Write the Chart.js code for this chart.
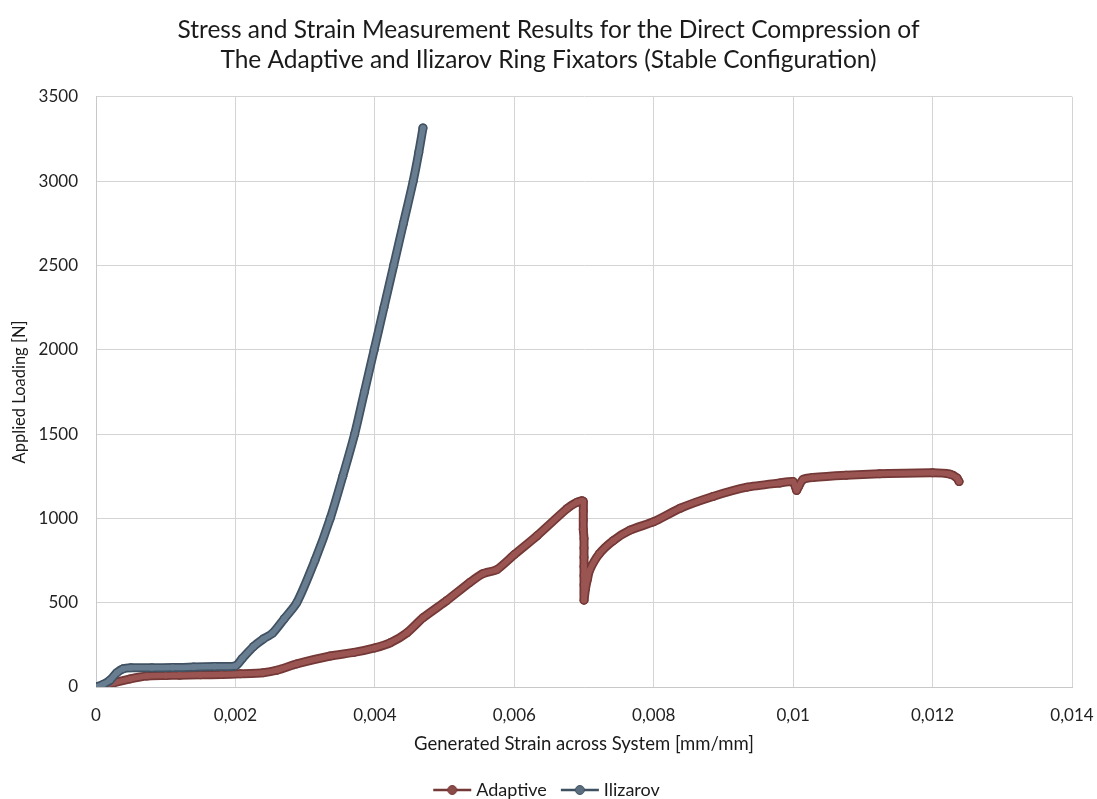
<!DOCTYPE html>
<html>
<head>
<meta charset="utf-8">
<script src="https://cdn.jsdelivr.net/npm/chart.js@4/dist/chart.umd.min.js"></script>
<style>
html,body{margin:0;padding:0;background:#fff;overflow:hidden;}
#wrap{width:1097px;height:799px;}
</style>
</head>
<body>
<div id="wrap"><canvas id="c" width="1097" height="799"></canvas></div>
<script>
// ---- data ----
const adaptiveX = [0, 0.0001, 0.00025, 0.00049, 0.00073, 0.001, 0.0012, 0.0015, 0.0018, 0.00207, 0.0024, 0.0026, 0.00288, 0.00336, 0.0037, 0.004, 0.00422, 0.00446, 0.00469, 0.00503, 0.00536, 0.00555, 0.00575, 0.006, 0.00633, 0.00676, 0.0069, 0.00697,
  0.00699, 0.00699, 0.00699, 0.00699, 0.007, 0.007, 0.007, 0.007, 0.007, 0.007, 0.007,
  0.00702, 0.00705, 0.00708, 0.00722, 0.00742, 0.00766, 0.008, 0.00838, 0.00885, 0.00934, 0.00981, 0.01, 0.01003, 0.01005, 0.01008, 0.01014, 0.01028, 0.01076, 0.01124, 0.012, 0.01225, 0.01235, 0.01238];
const adaptiveY = [0, 8, 24, 48, 65, 68, 70, 72, 74, 78, 85, 100, 137, 184, 205, 232, 262, 321, 410, 512, 619, 672, 696, 785, 898, 1059, 1095, 1105,
  1100, 1045, 990, 935, 880, 825, 770, 715, 660, 605, 515,
  580, 640, 692, 790, 868, 930, 980, 1060, 1130, 1185, 1210, 1218, 1190, 1165, 1190, 1230, 1242, 1256, 1264, 1270, 1262, 1240, 1218];

const ilizarovX = [0, 0.0001, 0.0002, 0.0003, 0.00039, 0.0005, 0.0008, 0.0011, 0.0014, 0.0017, 0.002, 0.0021, 0.00226, 0.0024, 0.00253, 0.0027, 0.00288, 0.00314, 0.00336, 0.00354, 0.00371, 0.00385, 0.00399, 0.00413, 0.00427, 0.00441, 0.00455, 0.00463, 0.00469];
const ilizarovY = [0, 15, 40, 85, 108, 114, 114, 115, 118, 122, 125, 170, 240, 285, 318, 405, 500, 750, 1000, 1250, 1500, 1750, 2000, 2250, 2500, 2750, 3000, 3170, 3315];

const xTickLabels = ['0', '0,002', '0,004', '0,006', '0,008', '0,01', '0,012', '0,014'];
const yTickLabels = ['0', '500', '1000', '1500', '2000', '2500', '3000', '3500'];

const seriesNames = ['Adaptive', 'Ilizarov'];
const titleLines = ['Stress and Strain Measurement Results for the Direct Compression of', 'The Adaptive and Ilizarov Ring Fixators (Stable Configuration)'];
const xTitle = 'Generated Strain across System [mm/mm]';
const yTitle = 'Applied Loading [N]';

// ---- styling ----
const FONT = "Lato, 'Open Sans', 'DejaVu Sans', sans-serif";
const colors = {
  Adaptive: {inner: '#9a5552', outer: '#743836', legendLine: '#743836', legendDot: '#8c4a48'},
  Ilizarov: {inner: '#687e90', outer: '#405263', legendLine: '#3f5061', legendDot: '#5a6e80'}
};

function pts(xs, ys) { return xs.map((x, i) => ({x: x, y: ys[i]})); }

function legendIcon(c) {
  const cv = document.createElement('canvas');
  cv.width = 40; cv.height = 12;
  const g = cv.getContext('2d');
  g.strokeStyle = c.legendLine; g.lineWidth = 2.5;
  g.beginPath(); g.moveTo(1, 6); g.lineTo(39, 6); g.stroke();
  g.fillStyle = c.legendDot; g.strokeStyle = c.legendLine; g.lineWidth = 1;
  g.beginPath(); g.arc(20, 6, 4.5, 0, Math.PI * 2); g.fill(); g.stroke();
  return cv;
}

function makeSets(name, xs, ys, tension) {
  const c = colors[name];
  const data = pts(xs, ys);
  return [
    {label: name + '_edge', data: data, showLine: true, borderColor: c.outer, backgroundColor: c.outer,
     borderWidth: 9, pointRadius: 4.5, pointBorderWidth: 0, pointBackgroundColor: c.outer,
     borderJoinStyle: 'round', borderCapStyle: 'round', tension: tension, order: 2},
    {label: name, data: data, showLine: true, borderColor: c.inner, backgroundColor: c.inner,
     borderWidth: 5.5, pointRadius: 3, pointBorderWidth: 0, pointBackgroundColor: c.inner,
     borderJoinStyle: 'round', borderCapStyle: 'round', tension: tension, order: 1,
     legendIcon: legendIcon(c)}
  ];
}

const datasets = [
  ...makeSets(seriesNames[0], adaptiveX, adaptiveY, 0.2),
  ...makeSets(seriesNames[1], ilizarovX, ilizarovY, 0.25)
];
datasets[2].order = 0; datasets[3].order = -1;

new Chart(document.getElementById('c'), {
  type: 'scatter',
  data: {datasets: datasets},
  options: {
    responsive: false,
    devicePixelRatio: 1,
    animation: false,
    layout: {padding: {left: 0, right: 0, top: 0, bottom: -10}},
    plugins: {
      tooltip: {enabled: false},
      title: {
        display: true, text: titleLines, color: '#1a1a1a',
        font: {family: FONT, size: 24.5, weight: 'normal', lineHeight: 1.22},
        padding: {top: 15, bottom: 22}
      },
      legend: {
        display: true, position: 'bottom',
        labels: {
          usePointStyle: true, pointStyleWidth: 30, padding: 18,
          color: '#1a1a1a', font: {family: FONT, size: 18},
          filter: (item, data) => !data.datasets[item.datasetIndex].label.endsWith('_edge'),
          generateLabels: (chart) => chart.data.datasets.map((ds, i) => ({
            text: ds.label, datasetIndex: i, pointStyle: ds.legendIcon || 'circle',
            fillStyle: ds.borderColor, strokeStyle: ds.borderColor, lineWidth: 0, hidden: false, fontColor: '#1a1a1a'
          }))
        }
      }
    },
    scales: {
      x: {
        type: 'linear', min: 0, max: 0.014,
        afterFit: (s) => { s.height = 76; s.paddingRight = 25; },
        ticks: {stepSize: 0.002, color: '#222', font: {family: FONT, size: 17}, padding: 18,
          callback: (v, i) => xTickLabels[i]},
        grid: {color: '#d4d4d4', lineWidth: 1, drawTicks: false},
        border: {color: '#c8c8c8'},
        title: {display: true, text: xTitle, color: '#1a1a1a', font: {family: FONT, size: 18.5}, padding: {top: 4, bottom: 8}}
      },
      y: {
        type: 'linear', min: 0, max: 3500,
        afterFit: (s) => { s.width = 96; },
        ticks: {stepSize: 500, color: '#222', font: {family: FONT, size: 17}, padding: 18,
          callback: (v, i) => yTickLabels[i]},
        grid: {color: '#d4d4d4', lineWidth: 1, drawTicks: false},
        border: {color: '#c8c8c8'},
        title: {display: true, text: yTitle, color: '#1a1a1a', font: {family: FONT, size: 16.5}, padding: {top: 10, bottom: 4}}
      }
    }
  }
});
</script>
</body>
</html>
